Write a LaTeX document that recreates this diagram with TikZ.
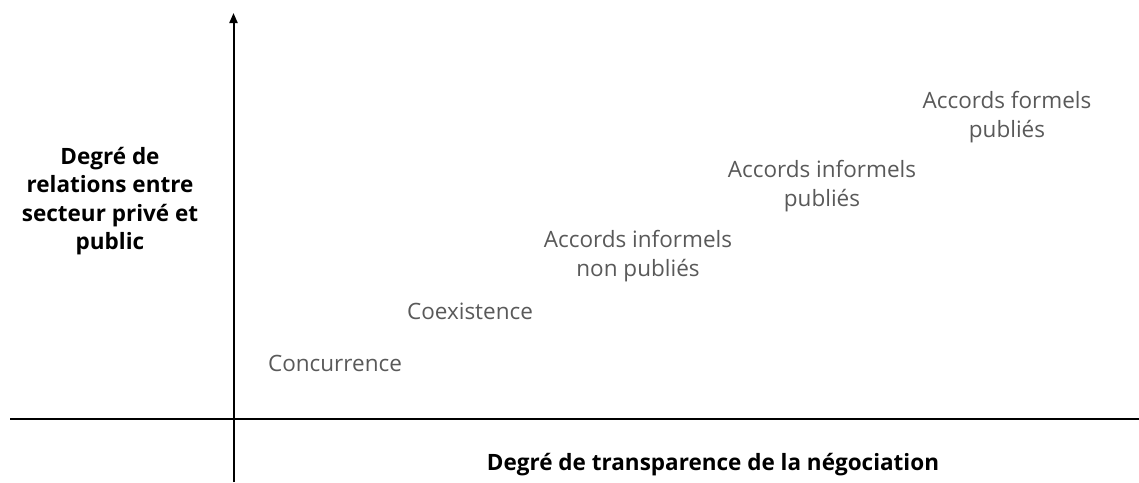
\documentclass[tikz,border=0pt]{standalone}
\usepackage{fontspec}
\setmainfont{Open Sans}
\usetikzlibrary{arrows.meta}
\definecolor{labelgray}{HTML}{595959}
\tikzset{
  axis/.style={line width=2pt, black},
  level/.style={text=labelgray, align=center, inner sep=0pt, font=\fontsize{22.5}{28.5}\selectfont},
  axislabel/.style={text=black, align=center, inner sep=0pt, font=\fontsize{22.5}{28.5}\selectfont\bfseries}
}
\begin{document}
\begin{tikzpicture}[x=1pt,y=-1pt]
\useasboundingbox (0,0) rectangle (1139,482);
\coordinate (ybot) at (233.5,482);
\coordinate (ytop) at (233.5,13);
\coordinate (xl) at (10,418.5);
\coordinate (xr) at (1139,418.5);
\draw[axis] (xl) -- (xr);
\draw[axis,-{Triangle[width=8pt,length=10pt]}] (ybot) -- (ytop);
\node[axislabel] (ylab) at (110,201) {Degré de\\relations entre\\secteur privé et\\public};
\node[axislabel] (xlab) at (713,465) {Degré de transparence de la négociation};
\node[level] (conc) at (335,363) {Concurrence};
\node[level] (coex) at (470,311) {Coexistence};
\node[level] (ainp) at (638,256) {Accords informels\\non publiés};
\node[level] (aip) at (822,186) {Accords informels\\publiés};
\node[level] (afp) at (1007,117) {Accords formels\\publiés};
\end{tikzpicture}
\end{document}
